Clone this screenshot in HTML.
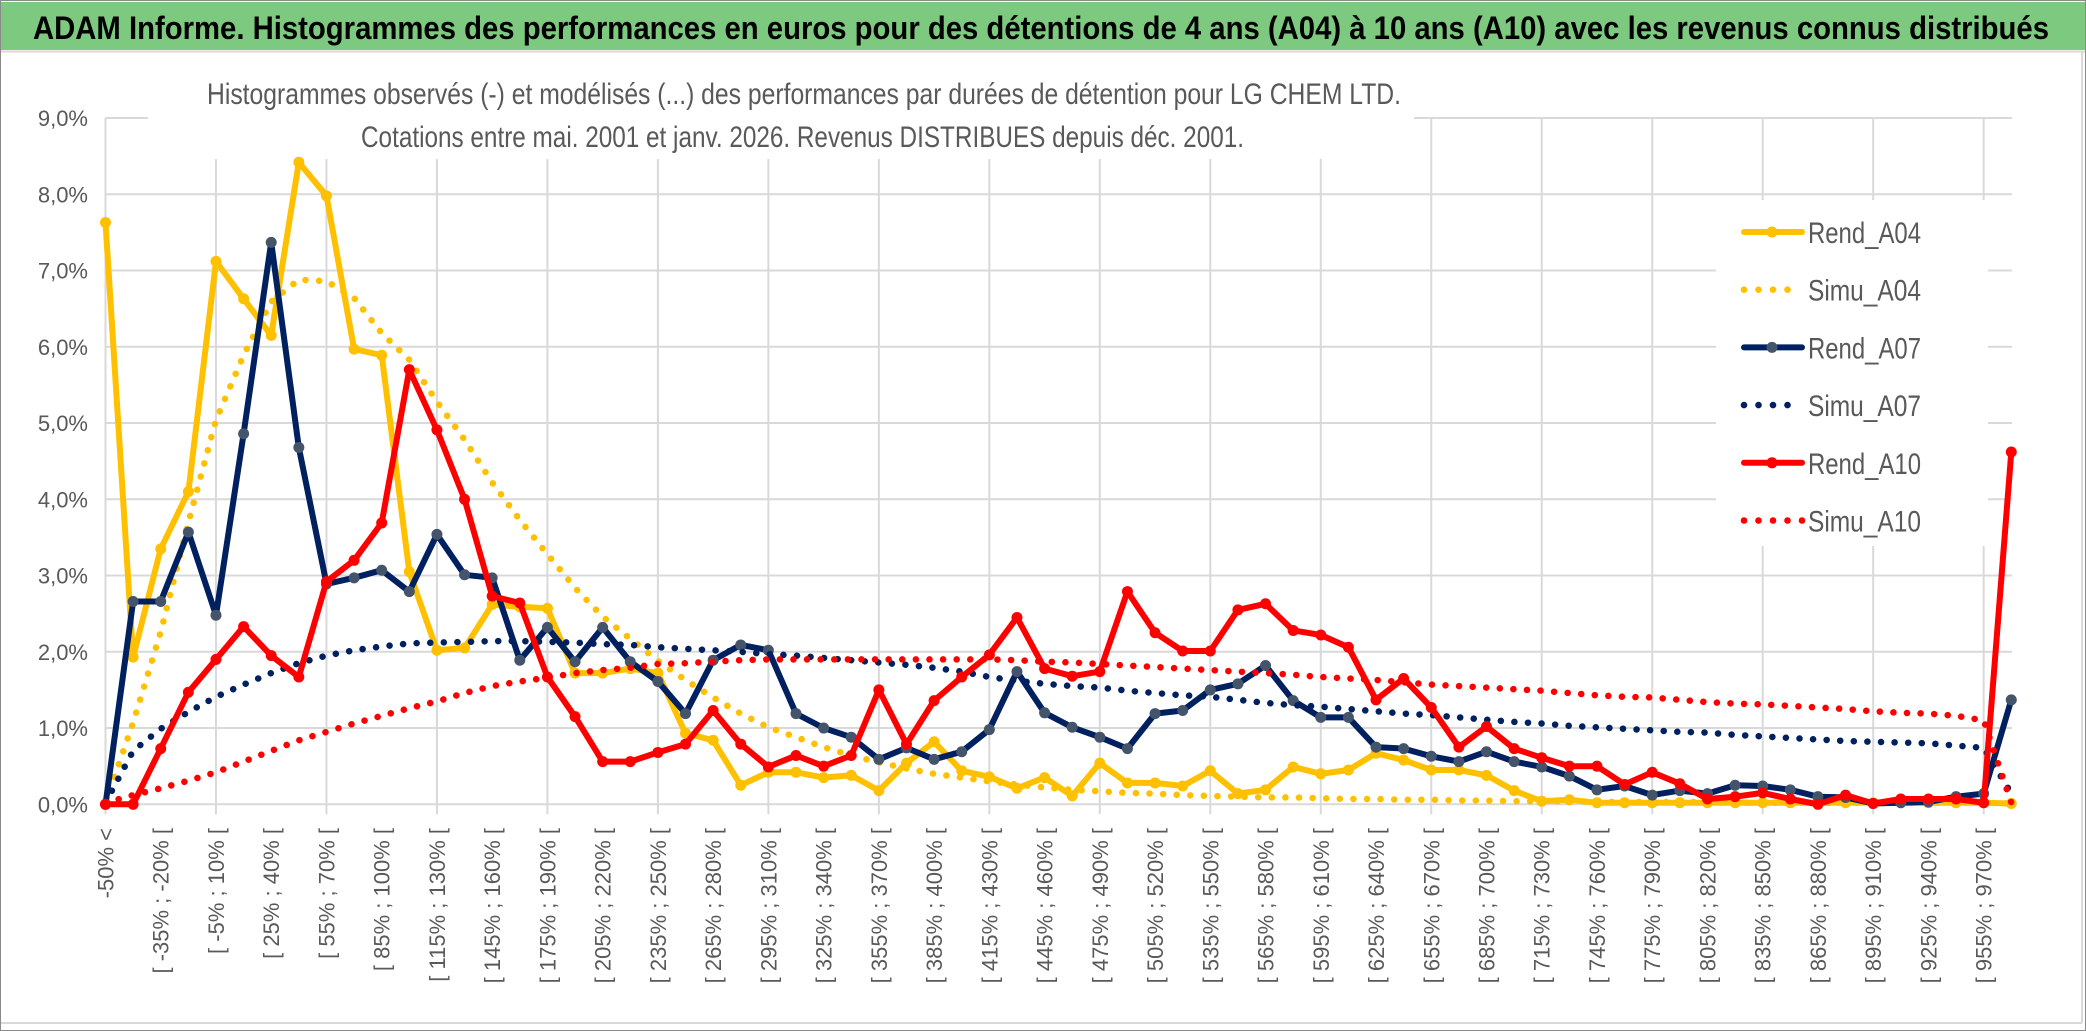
<!DOCTYPE html>
<html><head><meta charset="utf-8">
<style>
html,body{margin:0;padding:0;background:#fff;}
svg{display:block;}
text{font-family:"Liberation Sans",sans-serif;}
</style></head>
<body>
<svg id="chart" width="2086" height="1031" viewBox="0 0 2086 1031" xmlns="http://www.w3.org/2000/svg">
  <rect x="0" y="0" width="2086" height="1031" fill="#ffffff"/>
  <rect x="0" y="2" width="2086" height="48" fill="#7DC97F"/>
  <line x1="0" y1="51.5" x2="2086" y2="51.5" stroke="#D9D9D9" stroke-width="2"/>
  <text x="33" y="39" font-size="32" font-weight="bold" fill="#000" textLength="2016" lengthAdjust="spacingAndGlyphs">ADAM Informe. Histogrammes des performances en euros pour des détentions de 4 ans (A04) à 10 ans (A10) avec les revenus connus distribués</text>
  <g id="grid"></g>
  <rect x="148" y="60" width="1266" height="99" fill="#fff"/>
  <text x="207" y="104" font-size="30" fill="#595959" textLength="1194" lengthAdjust="spacingAndGlyphs">Histogrammes observés (-) et modélisés (...) des performances par durées de détention pour LG CHEM LTD.</text>
  <text x="361" y="147" font-size="30" fill="#595959" textLength="883" lengthAdjust="spacingAndGlyphs">Cotations entre mai. 2001 et janv. 2026. Revenus DISTRIBUES depuis déc. 2001.</text>
  <g id="yaxis"></g>
  <g id="xaxis"></g>
  <g id="series"></g>
  <g id="legend"></g>
  <line x1="2082" y1="52" x2="2082" y2="1023" stroke="#D9D9D9" stroke-width="2"/>
  <line x1="0" y1="1023" x2="2082" y2="1023" stroke="#D9D9D9" stroke-width="2"/>
  <rect x="0.5" y="0.5" width="2085" height="1030" fill="none" stroke="#8a8a8a" stroke-width="1"/>
</svg>
<script>
const rendA04 = [7.63,1.93,3.35,4.10,7.12,6.63,6.15,8.42,7.98,5.97,5.89,3.05,2.02,2.05,2.62,2.59,2.57,1.72,1.72,1.78,1.72,0.93,0.84,0.25,0.42,0.42,0.35,0.38,0.18,0.54,0.82,0.44,0.36,0.21,0.35,0.11,0.54,0.28,0.28,0.24,0.44,0.14,0.19,0.49,0.40,0.45,0.67,0.58,0.45,0.45,0.38,0.18,0.04,0.06,0.02,0.02,0.02,0.02,0.02,0.02,0.02,0.02,0.02,0.02,0.02,0.02,0.02,0.02,0.02,0.01];
const simuA04 = [0.02,1.07,2.26,3.70,5.04,5.89,6.59,6.88,6.86,6.64,6.18,5.83,5.28,4.78,4.22,3.73,3.28,2.84,2.46,2.17,1.88,1.63,1.40,1.19,1.01,0.88,0.75,0.64,0.55,0.47,0.40,0.35,0.30,0.26,0.22,0.19,0.17,0.15,0.14,0.12,0.11,0.10,0.09,0.09,0.08,0.07,0.07,0.06,0.06,0.05,0.05,0.04,0.04,0.04,0.03,0.03,0.03,0.03,0.03,0.02,0.02,0.02,0.02,0.02,0.02,0.02,0.02,0.02,0.02,0.01];
const rendA07 = [0,2.66,2.66,3.57,2.48,4.86,7.37,4.68,2.89,2.97,3.07,2.79,3.54,3.01,2.97,1.89,2.32,1.87,2.32,1.87,1.61,1.19,1.89,2.09,2.02,1.19,1.00,0.88,0.59,0.74,0.59,0.69,0.98,1.74,1.20,1.01,0.88,0.73,1.19,1.23,1.50,1.58,1.82,1.36,1.14,1.14,0.75,0.73,0.63,0.56,0.69,0.56,0.49,0.37,0.19,0.24,0.12,0.18,0.14,0.25,0.24,0.19,0.10,0.09,0.01,0.02,0.03,0.10,0.14,1.37];
const simuA07 = [0.02,0.70,0.99,1.21,1.41,1.57,1.72,1.85,1.95,2.02,2.07,2.11,2.12,2.13,2.14,2.14,2.13,2.12,2.10,2.09,2.06,2.04,2.02,2.00,1.97,1.95,1.92,1.89,1.86,1.83,1.79,1.74,1.67,1.62,1.58,1.55,1.53,1.49,1.46,1.43,1.41,1.37,1.33,1.30,1.28,1.25,1.22,1.19,1.17,1.14,1.11,1.08,1.06,1.03,1.01,0.99,0.97,0.95,0.94,0.91,0.89,0.87,0.85,0.83,0.82,0.81,0.80,0.77,0.74,0.14];
const rendA10 = [0,0,0.73,1.47,1.90,2.33,1.95,1.67,2.92,3.20,3.69,5.70,4.91,4.00,2.73,2.64,1.67,1.15,0.56,0.56,0.68,0.79,1.23,0.79,0.49,0.64,0.50,0.64,1.50,0.79,1.36,1.67,1.96,2.45,1.78,1.68,1.74,2.79,2.25,2.01,2.01,2.55,2.63,2.28,2.22,2.06,1.37,1.65,1.27,0.75,1.02,0.73,0.61,0.50,0.50,0.26,0.42,0.27,0.07,0.10,0.15,0.07,0.0,0.12,0.01,0.07,0.07,0.07,0.02,4.62];
const simuA10 = [0.02,0.12,0.21,0.31,0.42,0.56,0.70,0.84,0.95,1.06,1.16,1.26,1.35,1.46,1.55,1.61,1.66,1.72,1.76,1.79,1.84,1.85,1.87,1.89,1.90,1.90,1.90,1.90,1.90,1.90,1.90,1.90,1.90,1.89,1.87,1.86,1.84,1.82,1.80,1.78,1.76,1.74,1.72,1.70,1.67,1.65,1.63,1.60,1.57,1.55,1.53,1.51,1.49,1.46,1.43,1.41,1.40,1.37,1.34,1.32,1.31,1.29,1.27,1.25,1.22,1.20,1.19,1.16,1.10,0.02];
const yTicks = [0,1,2,3,4,5,6,7,8,9];
const yTickLabels = ["0,0%","1,0%","2,0%","3,0%","4,0%","5,0%","6,0%","7,0%","8,0%","9,0%"];
const binLows = [-50,-35,-20,-5,10,25,40,55,70,85,100,115,130,145,160,175,190,205,220,235,250,265,280,295,310,325,340,355,370,385,400,415,430,445,460,475,490,505,520,535,550,565,580,595,610,625,640,655,670,685,700,715,730,745,760,775,790,805,820,835,850,865,880,895,910,925,940,955,970];
const categories = ["-50% <"].concat(binLows.map(function(a){return "[ " + a + "% ; " + (a+15) + "% [";}));

const NS = "http://www.w3.org/2000/svg";
const X0 = 105.5, STEP = 27.62, Y0 = 804.3, YPER = 76.25;
function xPos(i){ return X0 + STEP * i; }
function yPos(v){ return Y0 - YPER * v; }
function mk(tag, attrs, parent){
  const e = document.createElementNS(NS, tag);
  for (const k in attrs) e.setAttribute(k, attrs[k]);
  parent.appendChild(e);
  return e;
}
const grid = document.getElementById('grid');
const PLOT_R = 2012;
yTicks.forEach(function(t){
  const l = mk('line', {x1: X0, x2: PLOT_R, y1: yPos(t), y2: yPos(t), stroke: '#D9D9D9', 'stroke-width': 2}, grid);
  
  
});
for (let i = 0; i < categories.length; i += 4) {
  const l = mk('line', {x1: xPos(i), x2: xPos(i), y1: yPos(9), y2: Y0 + 10, stroke: '#D9D9D9', 'stroke-width': 2}, grid);
  
  
}
const lgBg = mk('rect', {x: 1716, y: 200, width: 272, height: 346, fill: '#fff'}, grid);



const yaxis = document.getElementById('yaxis');
yTicks.forEach(function(t, k){
  const tx = mk('text', {x: 88, y: yPos(t) + 8, 'font-size': 22, fill: '#595959', 'text-anchor': 'end'}, yaxis);
  
  
  tx.textContent = yTickLabels[k];
});
const xaxis = document.getElementById('xaxis');
for (let i = 0; i < categories.length - 1; i += 2) {
  const cx = xPos(i) + 8;
  const tx = mk('text', {x: cx, y: 828, 'font-size': 22, fill: '#595959', 'text-anchor': 'end', transform: 'rotate(-90 ' + cx + ' 828)'}, xaxis);
  
  
  tx.textContent = categories[i];
}

const series = document.getElementById('series');
function pathD(vals){
  return vals.map(function(v, i){ return (i ? 'L' : 'M') + xPos(i).toFixed(1) + ' ' + yPos(v).toFixed(1); }).join(' ');
}
function drawRend(vals, color, marker, name){
  const g = mk('g', {}, series);
  
  
  const p = mk('path', {d: pathD(vals), fill: 'none', stroke: color, 'stroke-width': 6, 'stroke-linejoin': 'round', 'stroke-linecap': 'round'}, g);
  
  
  vals.forEach(function(v, i){
    const c = mk('circle', {cx: xPos(i), cy: yPos(v), r: 5.5, fill: marker}, g);
    
    
  });
}
function drawSimu(vals, color, name){
  const p = mk('path', {d: pathD(vals), fill: 'none', stroke: color, 'stroke-width': 6.5, 'stroke-linecap': 'round', 'stroke-linejoin': 'round', 'stroke-dasharray': '0.1 13.5'}, series);
  
  
}
drawRend(rendA04, '#FFC000', '#FFC000', 'rend-a04');
drawSimu(simuA04, '#FFC000', 'simu-a04');
drawRend(rendA07, '#002060', '#44546A', 'rend-a07');
drawSimu(simuA07, '#002060', 'simu-a07');
drawRend(rendA10, '#FF0000', '#FF0000', 'rend-a10');
drawSimu(simuA10, '#FF0000', 'simu-a10');

const legend = document.getElementById('legend');
const legendNames = ['Rend_A04','Simu_A04','Rend_A07','Simu_A07','Rend_A10','Simu_A10'];
const legendColors = ['#FFC000','#FFC000','#002060','#002060','#FF0000','#FF0000'];
const legendMarkers = ['#FFC000','','#44546A','','#FF0000',''];
legendNames.forEach(function(nm, k){
  const y = 232 + 57.7 * k;
  const g = mk('g', {}, legend);
  
  
  if (legendMarkers[k]) {
    mk('line', {x1: 1744, x2: 1802, y1: y, y2: y, stroke: legendColors[k], 'stroke-width': 6, 'stroke-linecap': 'round'}, g);
    mk('circle', {cx: 1772, cy: y, r: 5.5, fill: legendMarkers[k]}, g);
  } else {
    const n = (k === 5) ? 5 : 4;
    for (let j = 0; j < n; j++) mk('circle', {cx: 1744 + j * 14.5, cy: y, r: 3.3, fill: legendColors[k]}, g);
  }
  const t = mk('text', {x: 1808, y: y + 11, 'font-size': 30, fill: '#595959', textLength: 113, lengthAdjust: 'spacingAndGlyphs'}, g);
  
  
  t.textContent = nm;
});
</script>
</body></html>
